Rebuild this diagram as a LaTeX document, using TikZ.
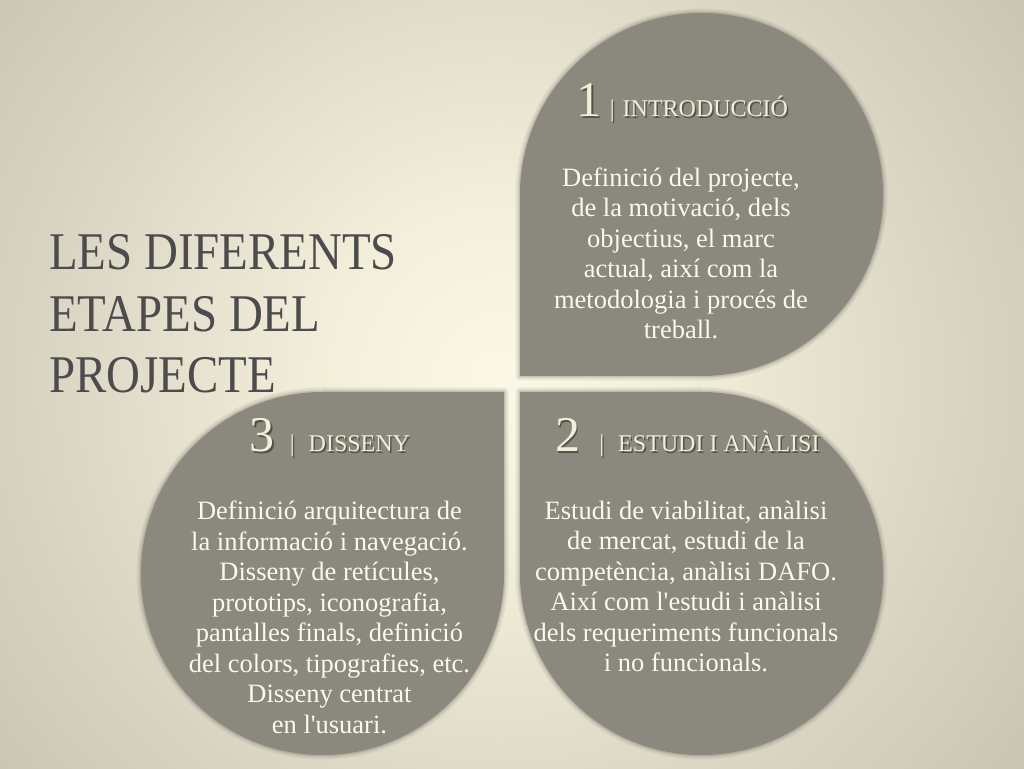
\documentclass[tikz,border=0pt]{standalone}
\usepackage{fontspec}
\setmainfont{Liberation Serif}
\definecolor{bgA}{RGB}{252,248,230}
\definecolor{bgB}{RGB}{244,239,219}
\definecolor{bgC}{RGB}{214,209,191}
\definecolor{bgD}{RGB}{180,176,162}
\definecolor{bgE}{RGB}{152,149,138}
\definecolor{leaf}{RGB}{139,136,125}
\definecolor{headc}{RGB}{243,238,218}
\definecolor{bodyc}{RGB}{250,248,240}
\definecolor{titlec}{RGB}{76,76,76}
\pgfdeclareradialshading{bgshade}{\pgfpoint{0bp}{0bp}}{color(0bp)=(bgA); color(6bp)=(bgB); color(18bp)=(bgC); color(32bp)=(bgD); color(47bp)=(bgE); color(50bp)=(bgE)}
\tikzset{
  leafshape/.style={fill=leaf,
    preaction={draw=black, draw opacity=0.06, line width=9pt, line join=round},
    preaction={draw=black, draw opacity=0.07, line width=5pt, line join=round},
    preaction={draw=black, draw opacity=0.08, line width=2.5pt, line join=round}},
  bodytext/.style={text=bodyc, align=center, inner sep=0pt, font=\fontsize{26.5}{30.5}\selectfont},
  headtext/.style={text=headc, inner sep=0pt, anchor=base},
  headshadow/.style={text=black, opacity=0.4, inner sep=0pt, anchor=base},
  titletext/.style={text=titlec, align=left, inner sep=0pt, anchor=base west, font=\fontsize{53}{61.5}\selectfont, xscale=0.885, transform shape}
}
\newcommand{\bignum}[1]{{\fontsize{50}{50}\selectfont #1}}
\newcommand{\smallhead}[1]{{\fontsize{24}{24}\selectfont #1}}
\newcommand{\headone}{\bignum{1}\hspace{8pt}\smallhead{|}\hspace{8pt}\smallhead{INTRODUCCIÓ}}
\newcommand{\headtwo}{\bignum{2}\hspace{19pt}\smallhead{|}\hspace{14pt}\smallhead{ESTUDI I ANÀLISI}}
\newcommand{\headthree}{\bignum{3}\hspace{15pt}\smallhead{|}\hspace{14pt}\smallhead{DISSENY}}
\begin{document}
\begin{tikzpicture}[x=1pt,y=1pt]
\useasboundingbox (0,0) rectangle (1024,768);
\begin{scope}
  \clip (0,0) rectangle (1024,768);
  \shade[shading=bgshade] (500,390) circle (700);
\end{scope}
% leaves
\path[leafshape] (520,392) -- (520,573.5) arc[start angle=180, end angle=-90, radius=181.5] -- cycle;
\path[leafshape] (520,376) -- (701.5,376) arc[start angle=90, end angle=-180, radius=181.5] -- cycle;
\path[leafshape] (504,376) -- (504,194.5) arc[start angle=0, end angle=-270, radius=181.5] -- cycle;
% title
\node[titletext] (title) at (49,375) {LES DIFERENTS\\ETAPES DEL\\PROJECTE};
% headers
\node[headshadow] (h1s) at (684,649.5) {\headone};
\node[headtext] (h1) at (682.5,651) {\headone};
\node[headshadow] (h2s) at (689,314.5) {\headtwo};
\node[headtext] (h2) at (687.5,316) {\headtwo};
\node[headshadow] (h3s) at (331.5,314.5) {\headthree};
\node[headtext] (h3) at (330,316) {\headthree};
% bodies
\node[bodytext] (b1) at (681,514.5) {Definició del projecte,\\de la motivació, dels\\objectius, el marc\\actual, així com la\\metodologia i procés de\\treball.};
\node[bodytext] (b2) at (686,181.5) {Estudi de viabilitat, anàlisi\\de mercat, estudi de la\\competència, anàlisi DAFO.\\Així com l\textquotesingle estudi i anàlisi\\dels requeriments funcionals\\i no funcionals.};
\node[bodytext] (b3) at (329.5,150.5) {Definició arquitectura de\\la informació i navegació.\\Disseny de retícules,\\prototips, iconografia,\\pantalles finals, definició\\del colors, tipografies, etc.\\Disseny centrat\\en l\textquotesingle usuari.};
\end{tikzpicture}
\end{document}
